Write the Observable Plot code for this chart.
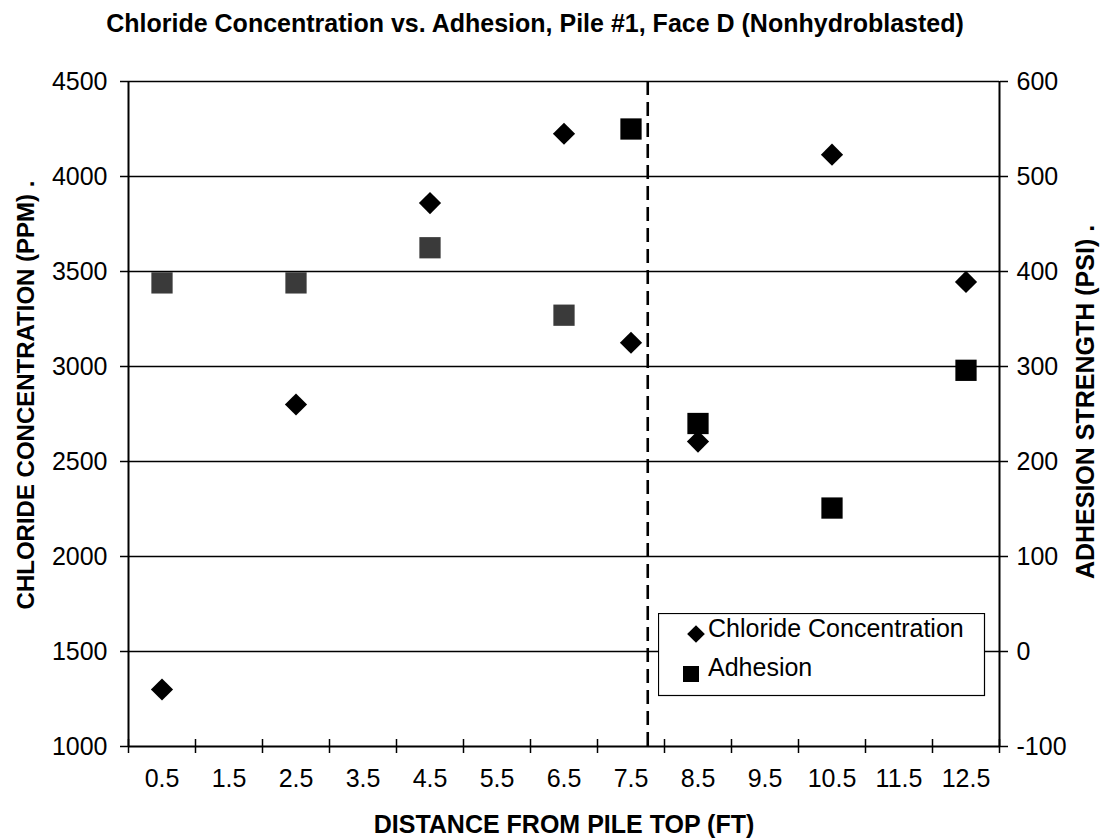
<!DOCTYPE html>
<html>
<head>
<meta charset="utf-8">
<script src="https://cdn.jsdelivr.net/npm/d3@7"></script>
<script src="https://cdn.jsdelivr.net/npm/@observablehq/plot@0.6"></script>
<style>
  html, body { margin: 0; padding: 0; background: #fff; }
  #wrap { position: relative; width: 1111px; height: 839px; font-family: "Liberation Sans", Arial, sans-serif; color: #000; }
  #title { position: absolute; left: 0; top: 8px; width: 1070px; text-align: center; font-weight: bold; font-size: 25px; line-height: 30px; }
  #chart { position: absolute; left: 0; top: 50px; }
  #legend { position: absolute; left: 658px; top: 613px; }
</style>
</head>
<body>
<div id="wrap">
  <div id="title">Chloride Concentration vs. Adhesion, Pile #1, Face D (Nonhydroblasted)</div>
  <div id="chart"></div>
  <div id="legend"></div>
</div>
<script>
// ---- data ----
const distances = [0.5, 2.5, 4.5, 6.5, 7.5, 8.5, 10.5, 12.5];            // ft from pile top
const chloride = [1300, 2800, 3860, 4225, 3125, 2605, 4115, 3445];        // ppm (left axis)
const adhesion = [388, 388, 425, 354, 550, 240, 151, 296];                // psi (right axis)
const xTickLabels = [0.5, 1.5, 2.5, 3.5, 4.5, 5.5, 6.5, 7.5, 8.5, 9.5, 10.5, 11.5, 12.5];
const xBandEdges = [0, 1, 2, 3, 4, 5, 6, 7, 8, 9, 10, 11, 12, 13];
const chlorideTicks = [1000, 1500, 2000, 2500, 3000, 3500, 4000, 4500];
const adhesionTicks = [-100, 0, 100, 200, 300, 400, 500, 600];
const boundaryDistance = [7.75];
const seriesNames = ["Chloride Concentration", "Adhesion"];

// right axis (psi) mapped onto left axis (ppm): -100 -> 1000, 600 -> 4500
const toLeft = a => 1500 + 5 * a;

const chlorideData = distances.map((d, i) => ({distance: d, value: chloride[i]}));
const adhesionData = distances.map((d, i) => ({distance: d, value: toLeft(adhesion[i]), raw: adhesion[i]}));

const font = '"Liberation Sans", Arial, sans-serif';

const chart = Plot.plot({
  width: 1111,
  height: 789,
  marginTop: 31,
  marginBottom: 93,
  marginLeft: 128,
  marginRight: 112,
  x: {domain: [0, 13]},
  y: {domain: [1000, 4500]},
  style: {fontFamily: font, fontSize: "25px", color: "#000", background: "#fff", overflow: "visible"},
  marks: [
    Plot.ruleY(chlorideTicks.slice(1), {stroke: "#000", strokeWidth: 1.6}),
    Plot.ruleY([chlorideTicks[0]], {stroke: "#000", strokeWidth: 2}),
    Plot.ruleX([xBandEdges[0], xBandEdges[xBandEdges.length - 1]], {stroke: "#000", strokeWidth: 2}),
    Plot.ruleX(boundaryDistance, {stroke: "#000", strokeWidth: 2.6, strokeDasharray: "14,7"}),
    Plot.axisY({ticks: chlorideTicks, tickSize: 8, tickPadding: 13, strokeWidth: 1.5, label: null, tickFormat: d => String(d)}),
    Plot.axisY({anchor: "right", ticks: adhesionTicks.map(toLeft), tickSize: 8, tickPadding: 9, strokeWidth: 1.5, label: null,
                tickFormat: d => String(Math.round((d - 1500) / 5))}),
    Plot.axisX({ticks: xBandEdges, tickSize: 14, dy: -7, strokeWidth: 1.5, label: null, tickFormat: () => ""}),
    Plot.axisX({ticks: xTickLabels, tickSize: 0, tickPadding: 23, label: null, tickFormat: d => d.toFixed(1)}),
    Plot.dot(adhesionData, {x: "distance", y: "value", symbol: "square", r: 12, stroke: null,
                            fill: d => d.distance < 7 ? "#3a3a3a" : "#000"}),
    Plot.dot(chlorideData, {x: "distance", y: "value", symbol: "diamond2", r: 10, fill: "#000", stroke: null}),
    Plot.text(["DISTANCE FROM PILE TOP (FT)"], {frameAnchor: "bottom", dy: 86, lineAnchor: "bottom", fontWeight: "bold", fontSize: 25}),
    Plot.text(["CHLORIDE CONCENTRATION (PPM) ."], {frameAnchor: "left", textAnchor: "middle", dx: -102, dy: -19, rotate: -90, fontWeight: "bold", fontSize: 24}),
    Plot.text(["ADHESION STRENGTH (PSI) ."], {frameAnchor: "right", textAnchor: "middle", dx: 86, dy: -12, rotate: -90, fontWeight: "bold", fontSize: 25})
  ]
});
document.getElementById("chart").appendChild(chart);

// ---- legend (boxed, bottom-right of plot) ----
const lg = d3.select("#legend").append("svg")
  .attr("width", 328).attr("height", 84)
  .style("font-family", font).style("font-size", "25px");
lg.append("rect").attr("x", 0.5).attr("y", 0.5).attr("width", 326).attr("height", 82)
  .attr("fill", "#fff").attr("stroke", "#000").attr("stroke-width", 1.2);
const rows = [
  {name: seriesNames[0], symbol: d3.symbolDiamond2, size: 200, cx: 38, cy: 21, ty: 24},
  {name: seriesNames[1], symbol: d3.symbolSquare, size: 256, cx: 33, cy: 61, ty: 63}
];
rows.forEach(r => {
  lg.append("path").attr("d", d3.symbol(r.symbol, r.size)()).attr("transform", `translate(${r.cx},${r.cy})`).attr("fill", "#000");
  lg.append("text").attr("x", 50).attr("y", r.ty).attr("dominant-baseline", "alphabetic").text(r.name);
});
</script>
</body>
</html>
